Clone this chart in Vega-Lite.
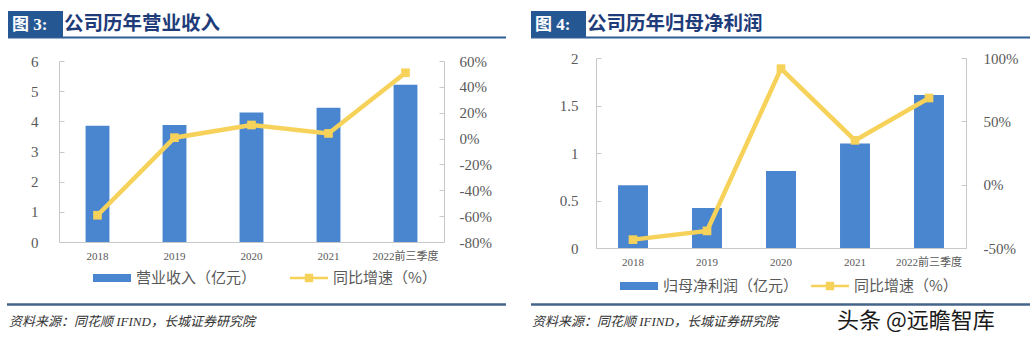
{
  "$schema": "https://vega.github.io/schema/vega-lite/v6.json",
  "background": "white",
  "padding": {"left": 5, "top": 10, "right": 0, "bottom": 0},
  "spacing": 21,
  "config": {"view": {"stroke": null}, "axis": {"grid": false}},
  "resolve": {"scale": {"color": "independent"}, "legend": {"color": "independent"}},
  "hconcat": [
    {
      "width": 385,
      "height": 184,
      "layer": [
        {
          "data": {"values": [
            {"period": "2018", "revenue": 3.85, "growth": -0.593},
            {"period": "2019", "revenue": 3.88, "growth": 0.007},
            {"period": "2020", "revenue": 4.29, "growth": 0.105},
            {"period": "2021", "revenue": 4.45, "growth": 0.040},
            {"period": "2022前三季度", "revenue": 5.21, "growth": 0.509}
          ]},
          "layer": [
            {
              "mark": {"type": "bar"},
              "encoding": {
                "x": {"field": "period", "type": "nominal", "sort": null,
                  "scale": {"paddingInner": 0.69, "paddingOuter": 0.345},
                  "axis": {"title": null, "labelAngle": 0, "ticks": false, "domainColor": "#C8C8C8", "labelFont": "Liberation Serif, Noto Sans CJK SC", "labelFontSize": 11, "labelColor": "#595959", "labelPadding": 8}},
                "y": {"field": "revenue", "type": "quantitative",
                  "scale": {"domain": [0, 6], "range": [184, 3], "nice": false, "zero": true},
                  "axis": {"title": null, "values": [0, 1, 2, 3, 4, 5, 6], "domainColor": "#C8C8C8", "tickColor": "#C8C8C8", "tickSize": -5, "labelPadding": 26, "labelFont": "Liberation Serif", "labelFontSize": 15, "labelColor": "#595959"}},
                "color": {"datum": "营业收入（亿元）", "type": "nominal",
                  "scale": {"domain": ["营业收入（亿元）", "同比增速（%）"], "range": ["#4A86D0", "#F7D25A"]},
                  "legend": {"orient": "none", "legendX": 34, "legendY": 201, "direction": "horizontal", "title": null,
                    "symbolSize": 1444, "labelFontSize": 15, "labelColor": "#595959", "labelFont": "Noto Sans CJK SC", "labelOffset": 5, "columnPadding": 33, "padding": 0,
                    "encode": {"symbols": {"update": {
                      "shape": {"signal": "datum.value === '营业收入（亿元）' ? 'M-1,-0.21L1,-0.21L1,0.21L-1,0.21Z' : 'M-1,-0.06L1,-0.06L1,0.06L-1,0.06Z M-0.22,-0.22L0.22,-0.22L0.22,0.22L-0.22,0.22Z'"},
                      "fill": {"signal": "datum.value === '营业收入（亿元）' ? '#4A86D0' : '#F7D25A'"},
                      "stroke": {"value": "transparent"},
                      "strokeWidth": {"value": 0},
                      "opacity": {"value": 1},
                      "fillOpacity": {"value": 1}
                    }}}}}
              }
            },
            {
              "mark": {"type": "line", "strokeWidth": 4.5, "point": {"shape": "square", "size": 75, "filled": true, "opacity": 1}},
              "encoding": {
                "x": {"field": "period", "type": "nominal", "sort": null},
                "y": {"field": "growth", "type": "quantitative",
                  "scale": {"domain": [-0.8, 0.6], "range": [184, 3], "nice": false, "zero": false},
                  "axis": {"orient": "right", "title": null, "values": [-0.8, -0.6, -0.4, -0.2, 0, 0.2, 0.4, 0.6],
                    "labelExpr": "replace(format(datum.value, '.0%'), '−', '-')",
                    "domainColor": "#C8C8C8", "tickColor": "#C8C8C8", "tickSize": -5, "labelPadding": 20, "labelFont": "Liberation Serif", "labelFontSize": 15, "labelColor": "#595959"}},
                "color": {"datum": "同比增速（%）", "type": "nominal"}
              }
            }
          ],
          "resolve": {"scale": {"y": "independent"}}
        },
        {
          "data": {"values": [{}]},
          "layer": [
            {
              "mark": {"type": "rule", "color": "#2E5E94", "strokeWidth": 2},
              "encoding": {
                "x": {"datum": 7, "type": "quantitative", "scale": {"domain": [58, 443], "nice": false, "zero": false}, "axis": null},
                "x2": {"datum": 505},
                "y": {"datum": 36.5, "type": "quantitative", "scale": {"domain": [57, 241], "reverse": true, "nice": false, "zero": false}, "axis": null}
              }
            },
            {
              "mark": {"type": "rect", "color": "#255792"},
              "encoding": {
                "x": {"datum": 7, "type": "quantitative"},
                "x2": {"datum": 62},
                "y": {"datum": 10, "type": "quantitative"},
                "y2": {"datum": 36}
              }
            },
            {
              "mark": {"type": "text", "text": "图 3:", "align": "left", "baseline": "middle", "font": "Liberation Serif, Noto Sans CJK SC", "fontWeight": "bold", "fontSize": 17, "color": "white"},
              "encoding": {"x": {"datum": 11, "type": "quantitative"}, "y": {"datum": 23.5, "type": "quantitative"}}
            },
            {
              "mark": {"type": "text", "text": "公司历年营业收入", "align": "left", "baseline": "middle", "font": "Noto Sans CJK SC", "fontWeight": "bold", "fontSize": 19.5, "color": "#1F3C7A"},
              "encoding": {"x": {"datum": 63, "type": "quantitative"}, "y": {"datum": 23, "type": "quantitative"}}
            },
            {
              "mark": {"type": "rule", "color": "#44648A", "strokeWidth": 2.5},
              "encoding": {
                "x": {"datum": 6, "type": "quantitative"},
                "x2": {"datum": 505},
                "y": {"datum": 303.5, "type": "quantitative"}
              }
            },
            {
              "mark": {"type": "text", "text": "资料来源：同花顺 IFIND，长城证券研究院", "align": "left", "baseline": "middle", "font": "Liberation Serif, Noto Sans CJK SC", "fontStyle": "italic", "fontSize": 13, "color": "#333333"},
              "encoding": {"x": {"datum": 8, "type": "quantitative"}, "y": {"datum": 320.5, "type": "quantitative"}}
            }
          ]
        }
      ],
      "resolve": {"scale": {"x": "independent", "y": "independent"}}
    },
    {
      "width": 370,
      "height": 190,
      "layer": [
        {
          "data": {"values": [
            {"period": "2018", "profit": 0.66, "growth": -0.434},
            {"period": "2019", "profit": 0.42, "growth": -0.365},
            {"period": "2020", "profit": 0.81, "growth": 0.916},
            {"period": "2021", "profit": 1.10, "growth": 0.350},
            {"period": "2022前三季度", "profit": 1.61, "growth": 0.684}
          ]},
          "layer": [
            {
              "mark": {"type": "bar"},
              "encoding": {
                "x": {"field": "period", "type": "nominal", "sort": null,
                  "scale": {"paddingInner": 0.595, "paddingOuter": 0.2975},
                  "axis": {"title": null, "labelAngle": 0, "ticks": false, "domainColor": "#C8C8C8", "labelFont": "Liberation Serif, Noto Sans CJK SC", "labelFontSize": 11, "labelColor": "#595959", "labelPadding": 8}},
                "y": {"field": "profit", "type": "quantitative",
                  "scale": {"domain": [0, 2], "nice": false, "zero": true},
                  "axis": {"title": null, "values": [0, 0.5, 1, 1.5, 2], "format": ".1~f", "domainColor": "#C8C8C8", "tickColor": "#C8C8C8", "tickSize": -5, "labelPadding": 23, "labelFont": "Liberation Serif", "labelFontSize": 15, "labelColor": "#595959"}},
                "color": {"datum": "归母净利润（亿元）", "type": "nominal",
                  "scale": {"domain": ["归母净利润（亿元）", "同比增速（%）"], "range": ["#4A86D0", "#F7D25A"]},
                  "legend": {"orient": "none", "legendX": 24, "legendY": 209, "direction": "horizontal", "title": null,
                    "symbolSize": 1444, "labelFontSize": 15, "labelColor": "#595959", "labelFont": "Noto Sans CJK SC", "labelOffset": 5, "columnPadding": 12, "padding": 0,
                    "encode": {"symbols": {"update": {
                      "shape": {"signal": "datum.value === '归母净利润（亿元）' ? 'M-1,-0.21L1,-0.21L1,0.21L-1,0.21Z' : 'M-1,-0.06L1,-0.06L1,0.06L-1,0.06Z M-0.22,-0.22L0.22,-0.22L0.22,0.22L-0.22,0.22Z'"},
                      "fill": {"signal": "datum.value === '归母净利润（亿元）' ? '#4A86D0' : '#F7D25A'"},
                      "stroke": {"value": "transparent"},
                      "strokeWidth": {"value": 0},
                      "opacity": {"value": 1},
                      "fillOpacity": {"value": 1}
                    }}}}}
              }
            },
            {
              "mark": {"type": "line", "strokeWidth": 4.5, "point": {"shape": "square", "size": 75, "filled": true, "opacity": 1}},
              "encoding": {
                "x": {"field": "period", "type": "nominal", "sort": null},
                "y": {"field": "growth", "type": "quantitative",
                  "scale": {"domain": [-0.5, 1.0], "nice": false, "zero": false},
                  "axis": {"orient": "right", "title": null, "values": [-0.5, 0, 0.5, 1.0],
                    "labelExpr": "replace(format(datum.value, '.0%'), '−', '-')",
                    "domainColor": "#C8C8C8", "tickColor": "#C8C8C8", "tickSize": -5, "labelPadding": 22, "labelFont": "Liberation Serif", "labelFontSize": 15, "labelColor": "#595959"}},
                "color": {"datum": "同比增速（%）", "type": "nominal"}
              }
            }
          ],
          "resolve": {"scale": {"y": "independent"}}
        },
        {
          "data": {"values": [{}]},
          "layer": [
            {
              "mark": {"type": "rule", "color": "#2E5E94", "strokeWidth": 2},
              "encoding": {
                "x": {"datum": 528, "type": "quantitative", "scale": {"domain": [593, 963], "nice": false, "zero": false}, "axis": null},
                "x2": {"datum": 1027},
                "y": {"datum": 36.5, "type": "quantitative", "scale": {"domain": [57, 247], "reverse": true, "nice": false, "zero": false}, "axis": null}
              }
            },
            {
              "mark": {"type": "rect", "color": "#255792"},
              "encoding": {
                "x": {"datum": 528, "type": "quantitative"},
                "x2": {"datum": 583},
                "y": {"datum": 10, "type": "quantitative"},
                "y2": {"datum": 36}
              }
            },
            {
              "mark": {"type": "text", "text": "图 4:", "align": "left", "baseline": "middle", "font": "Liberation Serif, Noto Sans CJK SC", "fontWeight": "bold", "fontSize": 17, "color": "white"},
              "encoding": {"x": {"datum": 532, "type": "quantitative"}, "y": {"datum": 23.5, "type": "quantitative"}}
            },
            {
              "mark": {"type": "text", "text": "公司历年归母净利润", "align": "left", "baseline": "middle", "font": "Noto Sans CJK SC", "fontWeight": "bold", "fontSize": 19.5, "color": "#1F3C7A"},
              "encoding": {"x": {"datum": 584, "type": "quantitative"}, "y": {"datum": 23, "type": "quantitative"}}
            },
            {
              "mark": {"type": "rule", "color": "#44648A", "strokeWidth": 2.5},
              "encoding": {
                "x": {"datum": 528, "type": "quantitative"},
                "x2": {"datum": 1027},
                "y": {"datum": 303.5, "type": "quantitative"}
              }
            },
            {
              "mark": {"type": "text", "text": "资料来源：同花顺 IFIND，长城证券研究院", "align": "left", "baseline": "middle", "font": "Liberation Serif, Noto Sans CJK SC", "fontStyle": "italic", "fontSize": 13, "color": "#333333"},
              "encoding": {"x": {"datum": 529, "type": "quantitative"}, "y": {"datum": 320.5, "type": "quantitative"}}
            },
            {
              "mark": {"type": "text", "text": "头条 @远瞻智库", "align": "left", "baseline": "middle", "font": "Noto Sans CJK SC", "fontSize": 22, "color": "#1A1A1A"},
              "encoding": {"x": {"datum": 834, "type": "quantitative"}, "y": {"datum": 320, "type": "quantitative"}}
            }
          ]
        }
      ],
      "resolve": {"scale": {"x": "independent", "y": "independent"}}
    }
  ]
}
